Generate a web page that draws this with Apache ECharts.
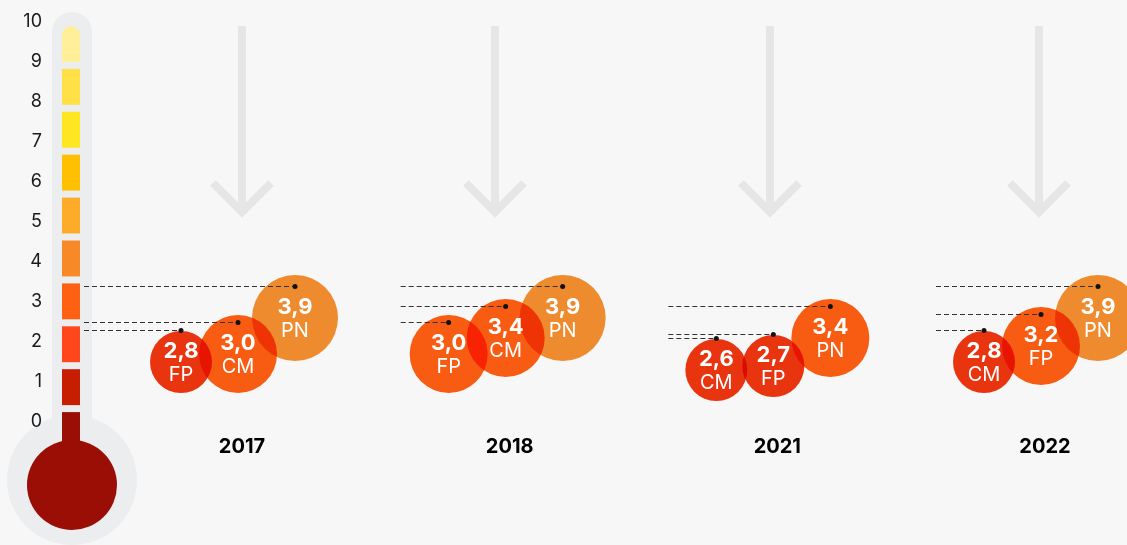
<!DOCTYPE html>
<html>
<head>
<meta charset="utf-8">
<title>Termómetro</title>
<script src="https://cdn.jsdelivr.net/npm/echarts@6/dist/echarts.min.js"></script>
</head>
<body style="margin:0;background:#f7f7f7">
<div id="main" style="width:1127px;height:545px;"></div>
<script>
var years = ['2017', '2018', '2021', '2022'];
var parties = ['FP', 'CM', 'PN'];
var fpValues = [2.8, 3.0, 2.7, 3.2];
var cmValues = [3.0, 3.4, 2.6, 2.8];
var pnValues = [3.9, 3.9, 3.4, 3.9];
// thermometer segments, from level 0 (bottom) to level 9 (top)
var scaleColors = ['#9a0e05', '#c71d00', '#ff471b', '#ff6113', '#f78a27',
                   '#fcac28', '#ffc002', '#ffe622', '#ffe047', '#ffef99'];

var valuesByParty = [fpValues, cmValues, pnValues];
var rows = [];
var rowParty = [];
years.forEach(function (y, i) {
    var vals = valuesByParty.map(function (arr) { return arr[i]; });
    var sorted = vals.slice().sort(function (a, b) { return a - b; });
    parties.forEach(function (p, k) {
        rows.push([i, vals[k], sorted.indexOf(vals[k])]);
        rowParty.push(p);
    });
});

var rankShift = [-61, -4, 53];
var dotDrop = 32;
var bubbleColors = ['#f0360f', '#ff5f12', '#f6902f'];
var bubbleRadius = [31, 39, 43];
function tier(v) { return v < 3 ? 0 : (v < 3.5 ? 1 : 2); }
var font = 'Inter, "Noto Sans", sans-serif';

function dotPoint(api) {
    var pt = api.coord([api.value(0), api.value(1)]);
    return [pt[0] + rankShift[api.value(2)], pt[1]];
}

function bubbleItem(params, api) {
    var p = dotPoint(api);
    var t = tier(api.value(1));
    return {
        type: 'circle',
        name: 'bubble',
        shape: { cx: p[0], cy: p[1] + dotDrop, r: bubbleRadius[t] },
        style: { fill: bubbleColors[t], blend: 'multiply' }
    };
}

function leaderItem(params, api) {
    var p = dotPoint(api);
    var i = api.value(0);
    var startX = i === 0 ? 84 : api.coord([i, 0])[0] - 109;
    var y = Math.round(p[1]) + 0.5;
    return {
        type: 'group',
        children: [
            { type: 'line', shape: { x1: startX, y1: y, x2: p[0], y2: y },
              style: { stroke: '#333', lineWidth: 1, lineDash: [5, 3] } },
            { type: 'circle', shape: { cx: p[0], cy: y, r: 2.5 }, style: { fill: '#111' } }
        ]
    };
}

function labelItem(params, api) {
    var p = dotPoint(api);
    var cy = p[1] + dotDrop;
    var v = api.value(1);
    return {
        type: 'group',
        children: [
            { type: 'text', style: { x: p[0], y: cy - 11, text: v.toFixed(1).replace('.', ','),
              fill: '#fff', fontSize: 22, fontWeight: 'bold', fontFamily: font,
              align: 'center', verticalAlign: 'middle' } },
            { type: 'text', style: { x: p[0], y: cy + 13, text: rowParty[params.dataIndex],
              fill: '#fff', fontSize: 20, fontFamily: font,
              align: 'center', verticalAlign: 'middle' } }
        ]
    };
}

function segmentItem(params, api) {
    var lvl = api.value(1);
    var cs = params.coordSys;
    var top = api.coord([0.5, lvl + 1])[1];
    var bottom = lvl === 0 ? 460 : api.coord([0.5, lvl])[1] - 7;
    return {
        type: 'rect',
        shape: { x: cs.x, y: top, width: cs.width, height: bottom - top, r: lvl === 9 ? [9, 9, 0, 0] : 0 },
        style: { fill: scaleColors[lvl] }
    };
}

function arrow(cx) {
    return {
        type: 'group',
        children: [
            { type: 'line', shape: { x1: cx, y1: 26, x2: cx, y2: 210 },
              style: { stroke: '#e6e6e6', lineWidth: 8 } },
            { type: 'polyline', shape: { points: [[cx - 29, 183], [cx, 212], [cx + 29, 183]] },
              style: { stroke: '#e6e6e6', lineWidth: 8, fill: null, lineJoin: 'miter' } }
        ]
    };
}

var myChart = echarts.init(document.getElementById('main'));
var option = {
    backgroundColor: '#f7f7f7',
    animation: false,
    textStyle: { fontFamily: font },
    graphic: [
        { type: 'rect', shape: { x: 52, y: 12, width: 40, height: 440, r: [20, 20, 0, 0] },
          style: { fill: '#ecedef' } },
        { type: 'circle', shape: { cx: 72, cy: 480, r: 65 }, style: { fill: '#ecedef' } },
        { type: 'circle', shape: { cx: 72, cy: 485, r: 45 }, style: { fill: '#9a0e05' } },
        arrow(242), arrow(495), arrow(770), arrow(1039)
    ],
    grid: [
        { left: 50, top: 22, width: 1, height: 400 },
        { left: 62, top: 26, width: 18, height: 429 },
        { left: 242, right: 82, top: 42, height: 400 }
    ],
    xAxis: [
        { gridIndex: 0, type: 'value', show: false },
        { gridIndex: 1, type: 'value', min: 0, max: 1, show: false },
        { gridIndex: 2, type: 'category', data: years, boundaryGap: false,
          axisLine: { show: false }, axisTick: { show: false },
          axisLabel: { margin: -5, fontSize: 20, fontWeight: 'bold', color: '#000', fontFamily: font } }
    ],
    yAxis: [
        { gridIndex: 0, type: 'value', min: 0, max: 10, interval: 1,
          axisLine: { show: false }, axisTick: { show: false }, splitLine: { show: false },
          axisLabel: { margin: 8, fontSize: 18, color: '#1a1a1a', fontFamily: font } },
        { gridIndex: 1, type: 'value', min: 0, max: 10, show: false },
        { gridIndex: 2, type: 'value', min: 0, max: 10, show: false }
    ],
    series: [
        { type: 'custom', name: 'escala', xAxisIndex: 1, yAxisIndex: 1, clip: false,
          renderItem: segmentItem,
          data: scaleColors.map(function (c, i) { return [0.5, i]; }) },
        { type: 'custom', name: 'burbujas', xAxisIndex: 2, yAxisIndex: 2, clip: false, z: 3,
          renderItem: bubbleItem, encode: { x: 0, y: 1 }, data: rows },
        { type: 'custom', name: 'guías', xAxisIndex: 2, yAxisIndex: 2, clip: false, z: 4,
          renderItem: leaderItem, encode: { x: 0, y: 1 }, data: rows },
        { type: 'custom', name: 'valores', xAxisIndex: 2, yAxisIndex: 2, clip: false, z: 5,
          renderItem: labelItem, encode: { x: 0, y: 1 }, data: rows }
    ]
};
myChart.setOption(option);

// overlapping bubbles are multiplied, as in the original
var zr = myChart.getZr();
zr.storage.getDisplayList(true).forEach(function (el) {
    if (el.type === 'circle' && (el.name === 'bubble' || bubbleColors.indexOf(el.style.fill) >= 0)) {
        el.style.blend = 'multiply';
        el.markRedraw();
    }
});
zr.refreshImmediately();
</script>
</body>
</html>
